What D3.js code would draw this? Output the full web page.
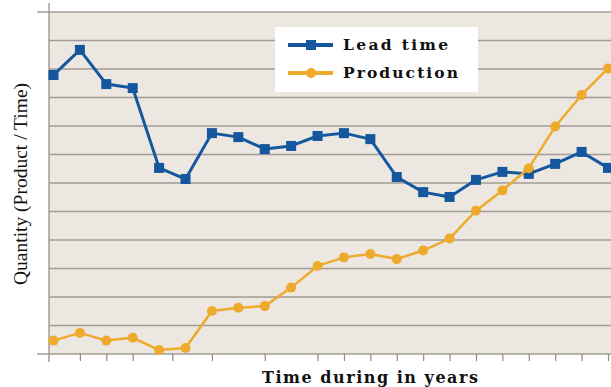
<!DOCTYPE html>
<html>
<head>
<meta charset="utf-8">
<script src="https://cdn.jsdelivr.net/npm/d3@7"></script>
<style>
  html, body { margin: 0; padding: 0; background: #fff; }
  svg { display: block; }
</style>
</head>
<body>
<svg id="chart" width="611" height="387"></svg>
<script>
// Yearly observations (index = year step)
const years = d3.range(22);
const leadTime = [9.79, 10.67, 9.47, 9.33, 6.53, 6.14, 7.75, 7.61, 7.19, 7.30, 7.65,
                  7.75, 7.54, 6.21, 5.68, 5.51, 6.11, 6.39, 6.32, 6.67, 7.09, 6.53];
const production = [0.47, 0.74, 0.47, 0.57, 0.14, 0.21, 1.51, 1.62, 1.68, 2.33, 3.09,
                    3.39, 3.51, 3.33, 3.63, 4.05, 5.03, 5.74, 6.52, 7.98, 9.09, 10.02];
const xTicks = [1, 2, 3, 4.5, 6, 8, 10, 11, 12, 13, 14, 15, 16, 17, 18, 19, 20, 21];
const yGrid = d3.range(0, 13);

const series = [
  { name: "Lead time", values: leadTime, color: "#14579e", marker: "square", width: 105 },
  { name: "Production", values: production, color: "#eeaa2c", marker: "circle", width: 115 }
];

const svg = d3.select("#chart");
const plot = { left: 49, right: 611, top: 12, bottom: 354 };

const x = d3.scaleLinear().domain([0, 21]).range([53.5, 608]);
const y = d3.scaleLinear().domain([0, 12]).range([plot.bottom, plot.top]);

const serif = "'DejaVu Serif', 'Liberation Serif', serif";

// Plot background
svg.append("rect")
  .attr("x", plot.left).attr("y", plot.top)
  .attr("width", plot.right - plot.left).attr("height", plot.bottom - plot.top)
  .attr("fill", "#ede7e1");

// Horizontal grid
svg.append("g")
  .selectAll("line")
  .data(yGrid)
  .join("line")
  .attr("x1", d => (d === 0 || d === 12) ? 37 : plot.left)
  .attr("x2", plot.right)
  .attr("y1", d => y(d)).attr("y2", d => y(d))
  .attr("stroke", "#a39c96")
  .attr("stroke-width", 1.5);

// Vertical axis line
svg.append("line")
  .attr("x1", plot.left).attr("x2", plot.left)
  .attr("y1", 3).attr("y2", 362)
  .attr("stroke", "#a39c96").attr("stroke-width", 1.5);

// Bottom axis ticks
const xAxis = d3.axisBottom(x).tickValues(xTicks).tickSize(7).tickFormat("");
svg.append("g")
  .attr("transform", `translate(0,${plot.bottom})`)
  .call(xAxis)
  .call(g => g.select(".domain").remove())
  .call(g => g.selectAll(".tick line").attr("stroke", "#8f8a85").attr("stroke-width", 1.2));

// Series lines and markers
const line = d3.line().x((d, i) => x(years[i])).y(d => y(d));

series.forEach(s => {
  const g = svg.append("g");
  g.append("path")
    .datum(s.values)
    .attr("d", line)
    .attr("fill", "none")
    .attr("stroke", s.color)
    .attr("stroke-width", s.marker === "square" ? 3 : 2.5)
    .attr("stroke-linejoin", "round");
  if (s.marker === "square") {
    g.selectAll("rect")
      .data(s.values)
      .join("rect")
      .attr("x", (d, i) => x(years[i]) - 5)
      .attr("y", d => y(d) - 5)
      .attr("width", 10).attr("height", 10)
      .attr("fill", s.color);
  } else {
    g.selectAll("circle")
      .data(s.values)
      .join("circle")
      .attr("cx", (d, i) => x(years[i]))
      .attr("cy", d => y(d))
      .attr("r", 5)
      .attr("fill", s.color);
  }
});

// Legend
const legend = svg.append("g");
legend.append("rect")
  .attr("x", 275).attr("y", 27).attr("width", 203).attr("height", 65)
  .attr("fill", "#ffffff");
series.forEach((s, i) => {
  const ly = 45 + i * 28;
  legend.append("line")
    .attr("x1", 288).attr("x2", 333).attr("y1", ly).attr("y2", ly)
    .attr("stroke", s.color).attr("stroke-width", 4);
  if (s.marker === "square") {
    legend.append("rect").attr("x", 311 - 5).attr("y", ly - 5)
      .attr("width", 10).attr("height", 10).attr("fill", s.color);
  } else {
    legend.append("circle").attr("cx", 311).attr("cy", ly).attr("r", 5).attr("fill", s.color);
  }
  legend.append("text")
    .attr("x", 343).attr("y", ly + 5)
    .attr("font-family", serif)
    .attr("font-weight", "bold")
    .attr("font-size", 15.5)
    .attr("textLength", s.width)
    .attr("lengthAdjust", "spacing")
    .attr("fill", "#111")
    .text(s.name);
});

// Axis titles
svg.append("text")
  .attr("x", 262).attr("y", 383)
  .attr("font-family", serif)
  .attr("font-weight", "bold")
  .attr("font-size", 16)
  .attr("textLength", 216)
  .attr("lengthAdjust", "spacing")
  .attr("fill", "#111")
  .text("Time during in years");

svg.append("text")
  .attr("transform", "translate(27,184) rotate(-90)")
  .attr("text-anchor", "middle")
  .attr("font-family", "'Liberation Serif', 'Times New Roman', serif")
  .attr("font-size", 19.5)
  .attr("fill", "#111")
  .text("Quantity (Product / Time)");
</script>
</body>
</html>
